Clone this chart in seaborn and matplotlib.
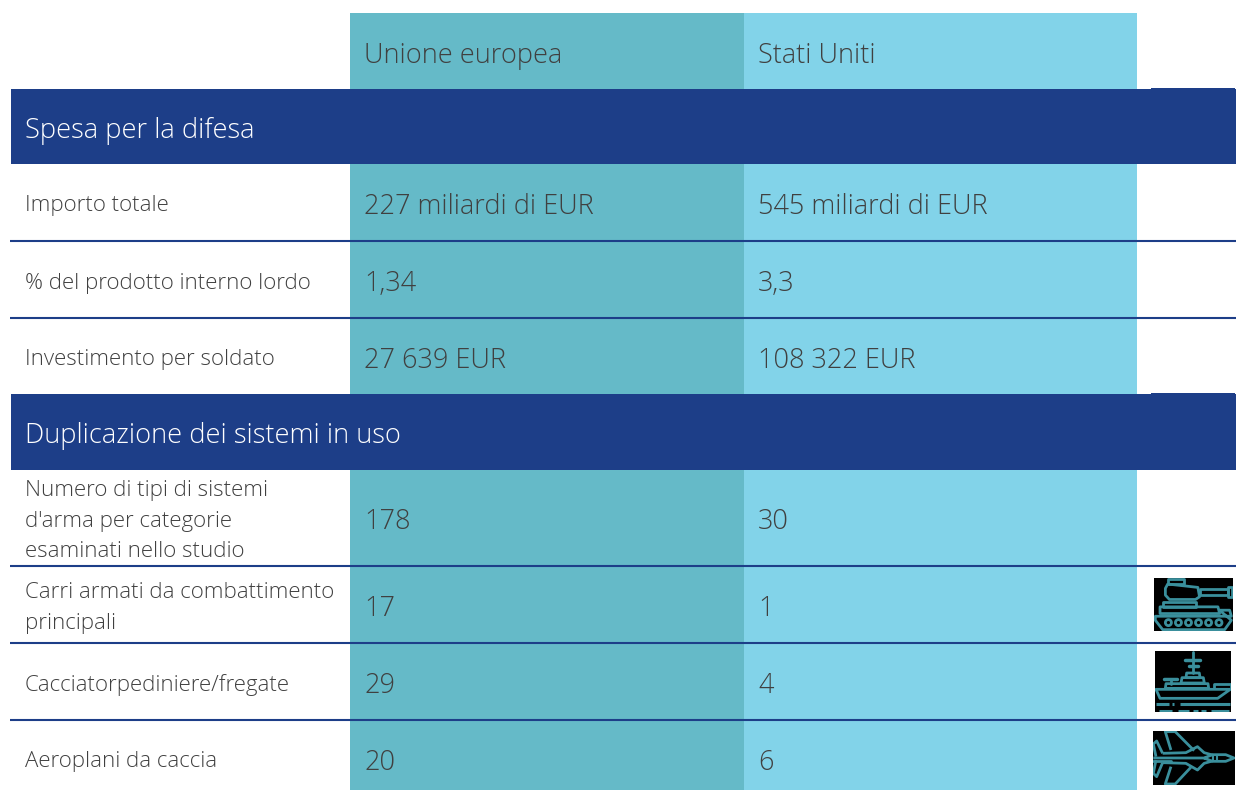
import numpy as np
import matplotlib
matplotlib.use('Agg')
import matplotlib.pyplot as plt
from matplotlib.colors import ListedColormap
from matplotlib.patches import Circle, Polygon, Rectangle
import seaborn as sns

columns = ['Unione europea', 'Stati Uniti']
sections = ['Spesa per la difesa', 'Duplicazione dei sistemi in uso']
row_labels = ['Importo totale', '% del prodotto interno lordo', 'Investimento per soldato',
              'Numero di tipi di sistemi\nd\'arma per categorie\nesaminati nello studio',
              'Carri armati da combattimento\nprincipali', 'Cacciatorpediniere/fregate',
              'Aeroplani da caccia']
eu_values = ['227 miliardi di EUR', '1,34', '27 639 EUR', '178', '17', '29', '20']
us_values = ['545 miliardi di EUR', '3,3', '108 322 EUR', '30', '1', '4', '6']

NAVY = '#1d3e88'
TEAL = '#3a8f9c'
DARK = '#404040'
FONT = 'Open Sans'
LW = 2.0

sns.set_theme(style='white')
plt.rcParams['font.family'] = [FONT, 'DejaVu Sans']

W, H = 1236, 790
fig = plt.figure(figsize=(W / 100, H / 100), dpi=100, facecolor='white')

# two coloured columns as a one row heatmap
ax_cols = fig.add_axes([350 / W, 0, (1137 - 350) / W, (H - 13) / H])
sns.heatmap(np.array([[0, 1]]), cmap=ListedColormap(['#65bac8', '#82d3e9']), cbar=False,
            xticklabels=False, yticklabels=False, ax=ax_cols)

# overlay in pixel coordinates
ax = fig.add_axes([0, 0, 1, 1], facecolor='none')
ax.set_xlim(0, W)
ax.set_ylim(H, 0)
ax.axis('off')

for (top, bottom), name in zip([(89, 164), (394, 470)], sections):
    ax.add_patch(Rectangle((11, top), W - 11, bottom - top, color=NAVY, lw=0))
    ax.add_patch(Rectangle((1151, top - 1), 84, 2, color=NAVY, lw=0))
    ax.text(25, (top + bottom) / 2 + 4, name, color='white', fontsize=19.6, va='center', weight='light')

for y in [241, 318, 566, 643, 720]:
    ax.plot([10, W], [y, y], color=NAVY, lw=1.5, solid_capstyle='butt')

for x, name in zip([364, 758], columns):
    ax.text(x, 56, name, color=DARK, fontsize=19.5, va='center', weight='light')

row_y = [207, 284, 361, 522, 609, 686, 763]
for y, label, eu, us in zip(row_y, row_labels, eu_values, us_values):
    ax.text(25, y - 1, label, color=DARK, fontsize=16, va='center', linespacing=1.6, weight='light')
    ax.text(364, y, eu, color=DARK, fontsize=19.5, va='center', weight='light')
    ax.text(758, y, us, color=DARK, fontsize=19.5, va='center', weight='light')


# icons: black tiles with teal outlines
def icon_axes(x0, y0, x1, y1, xlim, ylim):
    a = fig.add_axes([x0 / W, 1 - y1 / H, (x1 - x0) / W, (y1 - y0) / H], facecolor='black')
    a.set_xlim(*xlim)
    a.set_ylim(*ylim)
    a.set_xticks([])
    a.set_yticks([])
    for s in a.spines.values():
        s.set_visible(False)
    return a


def outline(a, pts, closed=True, lw=LW):
    a.add_patch(Polygon(pts, closed=closed, fill=False, edgecolor=TEAL, lw=lw, joinstyle='round'))


# tank
a = icon_axes(1154, 578, 1233, 631, (54, 290), (212, 54))
outline(a, [(95, 58), (145, 58), (145, 72), (95, 72)])
outline(a, [(95, 72), (185, 82), (190, 110), (178, 118), (100, 118), (88, 105), (88, 85)])
outline(a, [(190, 88), (275, 88), (275, 105), (190, 105)])
outline(a, [(275, 82), (288, 82), (288, 112), (275, 112)])
outline(a, [(82, 126), (180, 126), (180, 140), (82, 140)])
outline(a, [(72, 140), (245, 140), (250, 160), (72, 160)])
outline(a, [(250, 150), (280, 150), (285, 168), (58, 168), (58, 180), (80, 208), (265, 208), (285, 180)])
for cx in [97, 127, 157, 187, 217, 248]:
    a.add_patch(Circle((cx, 187), 9, fill=False, edgecolor=TEAL, lw=LW))

# ship
a = icon_axes(1155, 651, 1231, 712, (57, 285), (455, 272))
a.plot([170, 170], [275, 338], color=TEAL, lw=LW)
a.plot([148, 192], [300, 300], color=TEAL, lw=2.5)
a.plot([158, 185], [318, 318], color=TEAL, lw=2.5)
outline(a, [(150, 352), (152, 338), (190, 338), (192, 352)])
outline(a, [(135, 368), (138, 352), (202, 352), (205, 368)])
outline(a, [(88, 384), (90, 370), (216, 370), (218, 384)])
a.plot([85, 122], [355, 355], color=TEAL, lw=2.5)
a.plot([105, 105], [355, 370], color=TEAL, lw=LW)
outline(a, [(235, 384), (235, 370), (284, 370), (284, 384)], closed=False)
outline(a, [(60, 387), (283, 387), (245, 414), (72, 414)])
for seg in [(60, 100), (108, 115), (133, 283)]:
    a.plot(seg, [432, 432], color=TEAL, lw=2.2, solid_capstyle='butt')
for seg in [(70, 108), (125, 160), (170, 185), (195, 210), (225, 280)]:
    a.plot(seg, [452, 452], color=TEAL, lw=2.2, solid_capstyle='butt')

# jet
a = icon_axes(1153, 731, 1235, 785, (51, 298), (675, 513))
outline(a, [(52, 594), (205, 594), (230, 584), (270, 584), (295, 594), (270, 604), (230, 604),
            (205, 594)], closed=False)
outline(a, [(80, 580), (150, 578), (185, 560), (205, 578), (230, 585)], closed=False)
outline(a, [(80, 608), (150, 610), (185, 630), (205, 610), (230, 603)], closed=False)
outline(a, [(105, 570), (88, 515), (118, 515), (175, 572)], closed=False)
outline(a, [(105, 620), (88, 672), (118, 672), (165, 622)], closed=False)
outline(a, [(80, 580), (62, 543), (52, 552), (60, 590)], closed=False)
outline(a, [(80, 608), (62, 650), (52, 640), (60, 600)], closed=False)
a.plot([52, 105], [603, 603], color=TEAL, lw=LW)
a.plot([232, 232], [585, 603], color=TEAL, lw=1.5)
a.plot([245, 245], [585, 603], color=TEAL, lw=1.5)

fig.savefig('out.png', dpi=100)
